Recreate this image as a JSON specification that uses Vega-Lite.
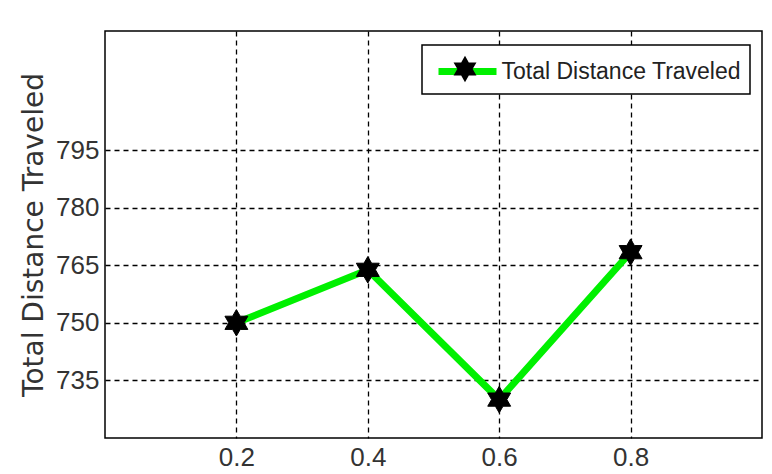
{
  "$schema": "https://vega.github.io/schema/vega-lite/v6.json",
  "autosize": "none",
  "width": 657,
  "height": 407,
  "padding": {"left": 105, "top": 31, "right": 10, "bottom": 36},
  "background": "white",
  "data": {"values": [
    {"x": 0.2, "y": 750},
    {"x": 0.4, "y": 763.8},
    {"x": 0.6, "y": 730},
    {"x": 0.8, "y": 768.4}
  ]},
  "encoding": {
    "x": {"field": "x", "type": "quantitative",
      "scale": {"domain": [0, 1], "nice": false, "zero": false},
      "axis": {"values": [0.2, 0.4, 0.6, 0.8], "format": ".1f", "title": null, "labelPadding": 6}},
    "y": {"field": "y", "type": "quantitative",
      "scale": {"domain": [720, 826], "nice": false, "zero": false},
      "axis": {"values": [735, 750, 765, 780, 795], "title": "Total Distance Traveled", "labelPadding": 6, "titlePadding": 7}}
  },
  "layer": [
    {
      "mark": {"type": "line", "strokeWidth": 7, "strokeCap": "butt", "strokeJoin": "miter"},
      "encoding": {
        "color": {"datum": "Total Distance Traveled",
          "scale": {"range": ["#00f000"]},
          "legend": {"orient": "none", "legendX": 317, "legendY": 14, "title": null,
            "symbolType": "M-2,0L2,0", "symbolStrokeWidth": 7, "symbolSize": 841, "symbolOffset": 19,
            "symbolFillColor": "transparent",
            "labelFont": "Liberation Sans", "labelFontSize": 23, "labelColor": "#222", "labelLimit": 500,
            "labelOffset": 16, "padding": 8.5, "strokeColor": "black", "fillColor": "white", "cornerRadius": 0,
            "encode": {"legend": {"update": {"strokeWidth": {"value": 1.5}}}}}}
      }
    },
    {
      "mark": {"type": "point", "filled": true, "color": "black", "size": 700, "opacity": 1, "strokeWidth": 1, "stroke": "black"},
      "encoding": {
        "shape": {"datum": "star",
          "scale": {"range": ["M0,-1L0.2887,-0.5L0.866,-0.5L0.5774,0L0.866,0.5L0.2887,0.5L0,1L-0.2887,0.5L-0.866,0.5L-0.5774,0L-0.866,-0.5L-0.2887,-0.5Z"]},
          "legend": {"orient": "none", "legendX": 335, "legendY": 13, "title": null,
            "symbolSize": 700, "symbolFillColor": "black", "symbolStrokeColor": "black", "symbolStrokeWidth": 1, "symbolOpacity": 1,
            "labelFont": "Liberation Sans", "labelFontSize": 28, "labelExpr": "''",
            "padding": 11}}
      }
    }
  ],
  "config": {
    "view": {"stroke": "black", "strokeWidth": 1.5},
    "axis": {
      "domain": false,
      "ticks": false,
      "grid": true,
      "gridColor": "black",
      "gridOpacity": 1,
      "gridWidth": 1.3,
      "gridDash": [5, 4],
      "labelFont": "Liberation Sans",
      "labelFontSize": 26,
      "labelColor": "#333",
      "titleFont": "DejaVu Sans",
      "titleFontSize": 28,
      "titleFontWeight": "normal",
      "titleColor": "#333"
    }
  }
}
